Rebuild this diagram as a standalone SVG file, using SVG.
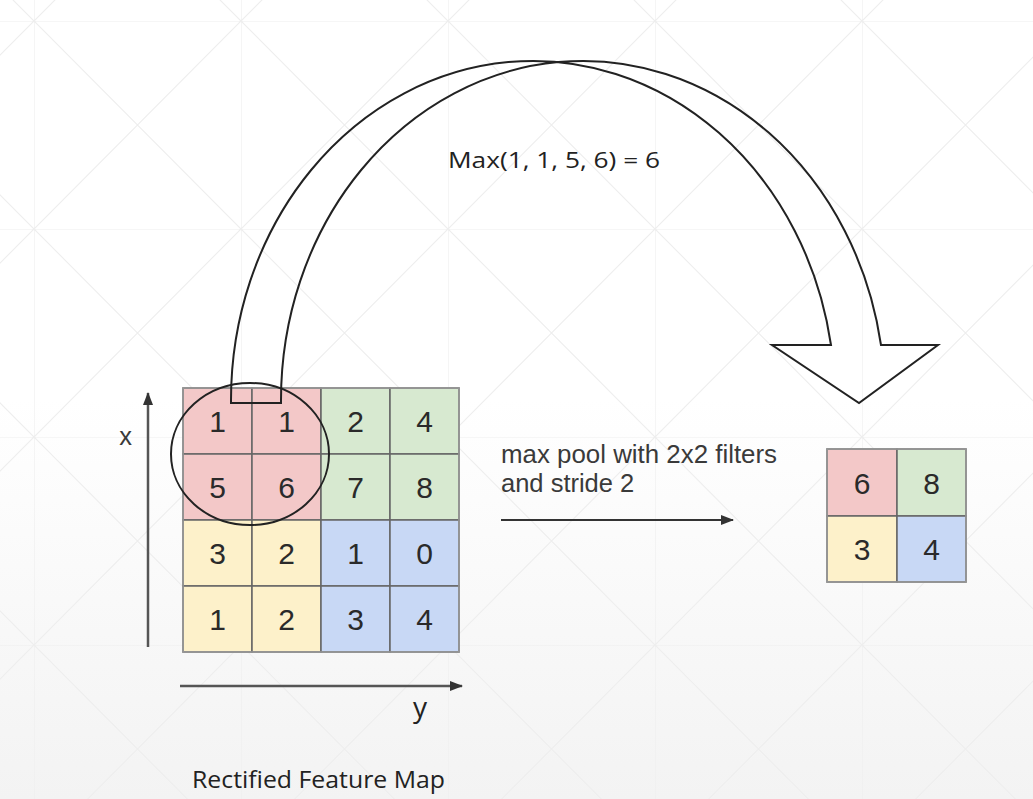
<svg xmlns="http://www.w3.org/2000/svg" width="1033" height="799" viewBox="0 0 1033 799">
  <defs>
    <linearGradient id="bgGrad" x1="0" y1="0" x2="0" y2="799" gradientUnits="userSpaceOnUse">
      <stop offset="0" stop-color="#ffffff"/>
      <stop offset="0.5" stop-color="#ffffff"/>
      <stop offset="1" stop-color="#f3f3f3"/>
    </linearGradient>
    <pattern id="bgGrid" patternUnits="userSpaceOnUse" x="34" y="21" width="207" height="208">
      <path d="M0 0 H207 M0 0 V208 M0 0 L207 208 M207 0 L0 208" stroke="#eeeeee" stroke-width="1.2" fill="none"/>
    </pattern>
    <marker id="arrowHead" markerWidth="14" markerHeight="10" refX="12" refY="5" orient="auto" markerUnits="userSpaceOnUse">
      <path d="M0 0 L13 5 L0 10 Z" fill="#333"/>
    </marker>
    <style>
      .cell { stroke: #666; stroke-width: 1.5; }
      .red { fill: #f3c8c8; }
      .green { fill: #d7e9d0; }
      .yellow { fill: #fdf1ca; }
      .blue { fill: #c8d8f5; }
      .frame { fill: none; stroke: #999; stroke-width: 1.5; }
      .num { font-family: "Liberation Sans", Arial, sans-serif; font-size: 30px; fill: #2a2a2a; text-anchor: middle; }
      .label { font-family: "Liberation Sans", Arial, sans-serif; font-size: 25.5px; fill: #3a3a3a; }
      .calib { font-family: "Open Sans", "Noto Sans", sans-serif; fill: #222; }
      .outline { fill: none; stroke: #222; stroke-width: 2; stroke-linejoin: miter; }
      .axis { stroke: #555; stroke-width: 2.5; fill: none; }
    </style>
  </defs>

  <rect id="background" x="0" y="0" width="1033" height="799" fill="url(#bgGrad)"/>
  <rect x="0" y="0" width="1033" height="799" fill="url(#bgGrid)"/>

  <g id="feature-map">
    <rect class="cell red" x="183" y="388" width="69" height="66"/>
    <rect class="cell red" x="252" y="388" width="69" height="66"/>
    <rect class="cell green" x="321" y="388" width="69" height="66"/>
    <rect class="cell green" x="390" y="388" width="69" height="66"/>
    <rect class="cell red" x="183" y="454" width="69" height="66"/>
    <rect class="cell red" x="252" y="454" width="69" height="66"/>
    <rect class="cell green" x="321" y="454" width="69" height="66"/>
    <rect class="cell green" x="390" y="454" width="69" height="66"/>
    <rect class="cell yellow" x="183" y="520" width="69" height="66"/>
    <rect class="cell yellow" x="252" y="520" width="69" height="66"/>
    <rect class="cell blue" x="321" y="520" width="69" height="66"/>
    <rect class="cell blue" x="390" y="520" width="69" height="66"/>
    <rect class="cell yellow" x="183" y="586" width="69" height="66"/>
    <rect class="cell yellow" x="252" y="586" width="69" height="66"/>
    <rect class="cell blue" x="321" y="586" width="69" height="66"/>
    <rect class="cell blue" x="390" y="586" width="69" height="66"/>
    <rect class="frame" x="183" y="388" width="276" height="264"/>
    <text class="num" x="217.5" y="432">1</text>
    <text class="num" x="286.5" y="432">1</text>
    <text class="num" x="355.5" y="432">2</text>
    <text class="num" x="424.5" y="432">4</text>
    <text class="num" x="217.5" y="498">5</text>
    <text class="num" x="286.5" y="498">6</text>
    <text class="num" x="355.5" y="498">7</text>
    <text class="num" x="424.5" y="498">8</text>
    <text class="num" x="217.5" y="564">3</text>
    <text class="num" x="286.5" y="564">2</text>
    <text class="num" x="355.5" y="564">1</text>
    <text class="num" x="424.5" y="564">0</text>
    <text class="num" x="217.5" y="630">1</text>
    <text class="num" x="286.5" y="630">2</text>
    <text class="num" x="355.5" y="630">3</text>
    <text class="num" x="424.5" y="630">4</text>
  </g>

  <g id="pool-window">
    <ellipse cx="250" cy="454" rx="79" ry="71" fill="none" stroke="#222" stroke-width="2"/>
  </g>

  <g id="pooled-map">
    <rect class="cell red" x="827" y="449" width="70" height="67"/>
    <rect class="cell green" x="897" y="449" width="69" height="67"/>
    <rect class="cell yellow" x="827" y="516" width="70" height="66"/>
    <rect class="cell blue" x="897" y="516" width="69" height="66"/>
    <rect class="frame" x="827" y="449" width="139" height="133"/>
    <text class="num" x="862" y="494">6</text>
    <text class="num" x="931.5" y="494">8</text>
    <text class="num" x="862" y="560">3</text>
    <text class="num" x="931.5" y="560">4</text>
  </g>

  <g id="labels">
    <text class="calib" x="448" y="168" font-size="21" textLength="212" lengthAdjust="spacingAndGlyphs">Max(1, 1, 5, 6) = 6</text>
    <text class="label" x="501" y="463" textLength="276" lengthAdjust="spacingAndGlyphs">max pool with 2x2 filters</text>
    <text class="label" x="501" y="492">and stride 2</text>
    <text class="label" x="125.5" y="445" text-anchor="middle" font-size="30" fill="#333">x</text>
    <text class="calib" x="420" y="717" text-anchor="middle" font-size="28" fill="#333">y</text>
    <text class="calib" x="192" y="788" font-size="24" textLength="253" lengthAdjust="spacingAndGlyphs">Rectified Feature Map</text>
  </g>

  <g id="connectors">
    <path id="curved-arrow" class="outline" d="M281 403 L231 403 L231 400 A302 339 0 0 1 831 345 L772 345 L859 403 L938 345 L881 345 A302 339 0 0 0 281 400 Z"/>
    <line id="pool-arrow" x1="501" y1="520" x2="733" y2="520" stroke="#333" stroke-width="2" marker-end="url(#arrowHead)"/>
    <line id="x-axis" class="axis" x1="148" y1="647" x2="148" y2="393" marker-end="url(#arrowHead)"/>
    <line id="y-axis" class="axis" x1="180" y1="686" x2="462" y2="686" marker-end="url(#arrowHead)"/>
  </g>
</svg>
